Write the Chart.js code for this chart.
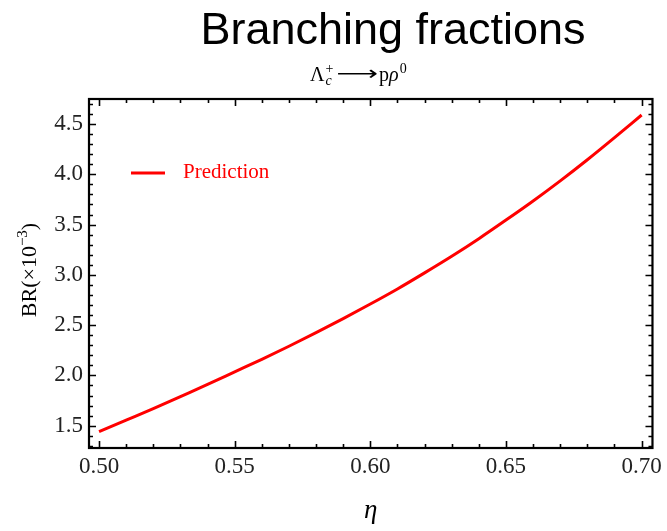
<!DOCTYPE html>
<html>
<head>
<meta charset="utf-8">
<script src="https://cdn.jsdelivr.net/npm/chart.js@4.4.0/dist/chart.umd.min.js"></script>
<style>
  html, body { margin: 0; padding: 0; background: #fff; }
</style>
</head>
<body>
<canvas id="mycanvas" width="667" height="531"></canvas>
<script>
// eta on the x axis, predicted BR (x10^-3) on the y axis
var eta = [0.50, 0.51, 0.52, 0.53, 0.54, 0.55, 0.56, 0.57, 0.58, 0.59, 0.60,
           0.61, 0.62, 0.63, 0.64, 0.65, 0.66, 0.67, 0.68, 0.69, 0.70];
var br = [1.44, 1.555, 1.67, 1.79, 1.91, 2.035, 2.16, 2.29, 2.425, 2.565, 2.71,
          2.86, 3.02, 3.185, 3.36, 3.545, 3.735, 3.935, 4.145, 4.365, 4.59];

var xTicks = [0.50, 0.55, 0.60, 0.65, 0.70];
var yTicks = [1.5, 2.0, 2.5, 3.0, 3.5, 4.0, 4.5];

var serif = '"Liberation Serif", "Times New Roman", serif';

var points = [];
for (var i = 0; i < eta.length; i++) {
    points.push({x: eta[i], y: br[i]});
}

// frame with inward major/minor ticks on all four sides
var framePlugin = {
    id: 'frame',
    afterDatasetsDraw: function(chart) {
        var ctx = chart.ctx;
        var a = chart.chartArea;
        var xs = chart.scales.x, ys = chart.scales.y;
        ctx.save();
        ctx.strokeStyle = '#000';
        ctx.lineWidth = 1.6;
        var k, v, p, len;
        // x ticks every 0.01, long every 0.05
        for (k = 50; k <= 70; k++) {
            v = k / 100;
            p = Math.round(xs.getPixelForValue(v)) + 0.5;
            len = (k % 5 === 0) ? 7 : 4;
            ctx.beginPath();
            ctx.moveTo(p, a.bottom); ctx.lineTo(p, a.bottom - len);
            ctx.moveTo(p, a.top); ctx.lineTo(p, a.top + len);
            ctx.stroke();
        }
        // y ticks every 0.1, long every 0.5
        for (k = 13; k <= 47; k++) {
            v = k / 10;
            p = Math.round(ys.getPixelForValue(v)) + 0.5;
            len = (k % 5 === 0) ? 7 : 4;
            ctx.beginPath();
            ctx.moveTo(a.left, p); ctx.lineTo(a.left + len, p);
            ctx.moveTo(a.right, p); ctx.lineTo(a.right - len, p);
            ctx.stroke();
        }
        ctx.lineWidth = 2.2;
        ctx.strokeRect(a.left, a.top, a.right - a.left, a.bottom - a.top);

        // legend entry inside the frame
        var ds = chart.data.datasets[0];
        ctx.strokeStyle = ds.borderColor;
        ctx.lineWidth = 3;
        ctx.beginPath();
        ctx.moveTo(a.left + 42, a.top + 74);
        ctx.lineTo(a.left + 76, a.top + 74);
        ctx.stroke();
        ctx.fillStyle = ds.borderColor;
        ctx.font = '21px ' + serif;
        ctx.textBaseline = 'middle';
        ctx.fillText(ds.label, a.left + 94, a.top + 73);
        ctx.restore();
    }
};

// title, decay channel and y axis label
var textPlugin = {
    id: 'texts',
    afterDraw: function(chart) {
        var ctx = chart.ctx;
        ctx.save();
        ctx.fillStyle = '#000';
        ctx.textBaseline = 'alphabetic';

        ctx.font = '45px "Liberation Sans", Arial, sans-serif';
        ctx.textAlign = 'center';
        ctx.fillText('Branching fractions', 393, 44);
        ctx.textAlign = 'left';

        var x = 310, y = 81;
        ctx.font = '20px ' + serif;
        ctx.fillText('\u039B', x, y);
        x += ctx.measureText('\u039B').width + 1;
        ctx.font = 'italic 14px ' + serif;
        ctx.fillText('c', x, y + 4);
        ctx.font = '14px ' + serif;
        ctx.fillText('+', x, y - 8);
        x += 11;
        ctx.save();
        ctx.translate(x, y - 1);
        ctx.scale(1.45, 1);
        ctx.font = '20px "DejaVu Sans"';
        ctx.fillText('\u27F6', 0, 0);
        x += ctx.measureText('\u27F6').width * 1.45 + 1;
        ctx.restore();
        ctx.font = '20px ' + serif;
        ctx.fillText('p', x, y);
        x += ctx.measureText('p').width;
        ctx.font = 'italic 20px ' + serif;
        ctx.fillText('\u03C1', x, y);
        x += ctx.measureText('\u03C1').width + 1;
        ctx.font = '14px ' + serif;
        ctx.fillText('0', x, y - 8);

        // rotated axis label with a real superscript
        ctx.save();
        ctx.translate(36, 270);
        ctx.rotate(-Math.PI / 2);
        ctx.font = '22px ' + serif;
        var main = 'BR(\u00D710', sup = '\u22123', close = ')';
        ctx.font = '15px ' + serif;
        var ws = ctx.measureText(sup).width;
        ctx.font = '22px ' + serif;
        var wm = ctx.measureText(main).width, wc = ctx.measureText(close).width;
        var sx = -(wm + ws + wc) / 2;
        ctx.fillText(main, sx, 0);
        ctx.font = '15px ' + serif;
        ctx.fillText(sup, sx + wm, -9);
        ctx.font = '22px ' + serif;
        ctx.fillText(close, sx + wm + ws, 0);
        ctx.restore();

        ctx.restore();
    }
};

var ctx = document.getElementById('mycanvas');
var chart = new Chart(ctx, {
    type: 'line',
    data: {
        datasets: [{
            label: 'Prediction',
            data: points,
            borderColor: '#ff0000',
            borderWidth: 3,
            pointRadius: 0,
            cubicInterpolationMode: 'monotone',
            fill: false
        }]
    },
    options: {
        responsive: false,
        animation: false,
        layout: { padding: { left: 0, right: 13, top: 99, bottom: 0 } },
        plugins: {
            legend: { display: false },
            tooltip: { enabled: false },
            title: { display: false }
        },
        scales: {
            x: {
                type: 'linear',
                min: 0.4963,
                max: 0.7040,
                grid: { display: false, drawTicks: false },
                border: { display: false },
                afterBuildTicks: function(s) {
                    s.ticks = xTicks.map(function(v) { return {value: v}; });
                },
                afterFit: function(s) { s.height = 83; },
                ticks: {
                    padding: 5,
                    color: '#222',
                    font: { family: serif, size: 23 },
                    maxRotation: 0,
                    callback: function(v) { return v.toFixed(2); }
                },
                title: {
                    display: true,
                    text: '\u03B7',
                    color: '#000',
                    font: { family: serif, size: 27, style: 'italic' },
                    padding: { top: 0, bottom: 4 }
                }
            },
            y: {
                min: 1.278,
                max: 4.749,
                grid: { display: false, drawTicks: false },
                border: { display: false },
                afterBuildTicks: function(s) {
                    s.ticks = yTicks.map(function(v) { return {value: v}; });
                },
                afterFit: function(s) { s.width = 89; },
                ticks: {
                    padding: 6,
                    color: '#222',
                    font: { family: serif, size: 23 },
                    callback: function(v) { return v.toFixed(1); }
                }
            }
        }
    },
    plugins: [framePlugin, textPlugin]
});
</script>
</body>
</html>
